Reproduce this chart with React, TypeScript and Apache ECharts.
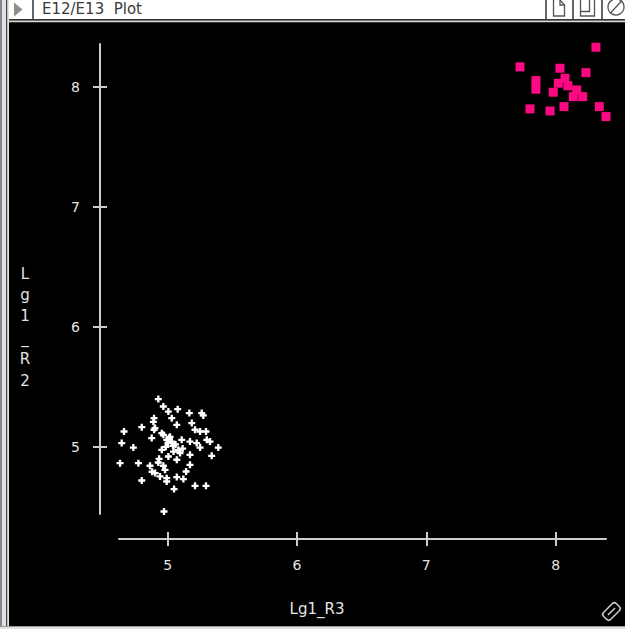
import React, { useEffect, useRef } from "react";
import * as echarts from "echarts";

const windowTitle = "E12/E13  Plot";
const xTitle = "Lg1_R3";
const yTitle = "Lg1_R2";
const xTicks = [5, 6, 7, 8];
const yTicks = [5, 6, 7, 8];

const whitePoints: number[][] = [
  [4.927, 5.398], [4.966, 5.336], [5.077, 5.314], [5.005, 5.294], [5.167, 5.281],
  [5.263, 5.281], [5.275, 5.262], [5.031, 5.239], [4.894, 5.239], [4.889, 5.208],
  [5.07, 5.183], [5.186, 5.198], [4.799, 5.164], [4.662, 5.128], [4.894, 5.142],
  [4.954, 5.114], [5.211, 5.142], [5.25, 5.128], [5.296, 5.128], [4.876, 5.073],
  [4.992, 5.058], [5.01, 5.075], [5.002, 5.033], [5.031, 5.044], [5.108, 5.058],
  [5.172, 5.044], [5.224, 5.031], [5.302, 5.058], [5.327, 5.044], [4.644, 5.031],
  [4.734, 4.994], [4.954, 4.975], [5.082, 4.975], [5.095, 4.948], [5.25, 4.994],
  [5.391, 4.994], [5.005, 4.919], [5.07, 4.892], [5.172, 4.933], [5.34, 4.925],
  [4.631, 4.864], [4.773, 4.864], [4.863, 4.842], [4.927, 4.869], [4.966, 4.842],
  [5.172, 4.85], [4.902, 4.781], [4.979, 4.808], [5.142, 4.794], [4.94, 4.753],
  [4.992, 4.739], [5.07, 4.748], [5.121, 4.731], [4.799, 4.719], [4.992, 4.711],
  [5.211, 4.675], [5.296, 4.675], [5.049, 4.648], [4.971, 4.461], [4.902, 5.156],
  [4.966, 5.1], [5.018, 5.083], [5.041, 5.008], [4.933, 4.9], [4.879, 4.792],
  [5.06, 5.02], [5.115, 4.985], [4.985, 5.0], [5.045, 4.96],
];

const pinkPoints: number[][] = [
  [8.312, 8.331], [7.725, 8.167], [8.034, 8.156], [8.235, 8.119], [7.848, 8.053],
  [7.848, 7.981], [8.073, 8.072], [8.021, 8.031], [7.982, 7.956], [8.163, 7.975],
  [8.137, 7.919], [8.21, 7.919], [7.802, 7.817], [7.957, 7.8], [8.065, 7.836],
  [8.338, 7.836], [8.39, 7.753], [8.095, 8.01],
];

const FONT = "DejaVu Sans";
const AXIS_COLOR = "#cdcdcd";
const TEXT_COLOR = "#e4e4e4";

export default function App() {
  const ref = useRef<HTMLDivElement>(null);
  useEffect(() => {
    if (!ref.current) return;
    const chart = echarts.init(ref.current, undefined, { renderer: "svg" });
    const xMin = 4.623, xMax = 8.39, yMin = 4.44, yMax = 8.358;
    const lineStyle = { color: AXIS_COLOR, width: 2 };
    chart.setOption({
      animation: false,
      backgroundColor: "#000",
      grid: { left: 119, right: 19, top: 44, bottom: 115 },
      xAxis: [
        {
          type: "value", min: xMin, max: xMax, position: "bottom", offset: 25,
          axisLine: { show: true, onZero: false, lineStyle },
          axisTick: { show: true, length: 7, lineStyle, customValues: xTicks },
          axisLabel: { customValues: xTicks, margin: 19, color: TEXT_COLOR, fontSize: 14, fontFamily: FONT },
          splitLine: { show: false },
        },
        {
          type: "value", min: xMin, max: xMax, position: "bottom", offset: 25,
          axisLine: { show: false },
          axisTick: { show: true, inside: true, length: 7, lineStyle, customValues: xTicks },
          axisLabel: { show: false },
          splitLine: { show: false },
        },
      ],
      yAxis: [
        {
          type: "value", min: yMin, max: yMax, position: "left", offset: 19,
          axisLine: { show: true, onZero: false, lineStyle },
          axisTick: { show: true, length: 7, lineStyle, customValues: yTicks },
          axisLabel: { customValues: yTicks, margin: 20, color: TEXT_COLOR, fontSize: 14, fontFamily: FONT },
          splitLine: { show: false },
        },
        {
          type: "value", min: yMin, max: yMax, position: "left", offset: 19,
          axisLine: { show: false },
          axisTick: { show: true, inside: true, length: 7, lineStyle, customValues: yTicks },
          axisLabel: { show: false },
          splitLine: { show: false },
        },
      ],
      series: [
        {
          type: "scatter", xAxisIndex: 0, yAxisIndex: 0, clip: false,
          symbol: "path://M2 0H4V2H6V4H4V6H2V4H0V2H2Z", symbolSize: 7,
          itemStyle: { color: "#ffffff", opacity: 1 },
          data: whitePoints,
        },
        {
          type: "scatter", xAxisIndex: 0, yAxisIndex: 0, clip: false,
          symbol: "rect", symbolSize: 9,
          itemStyle: { color: "#ff0883", opacity: 1 },
          data: pinkPoints,
        },
      ],
      graphic: [
        // window chrome
        { type: "rect", shape: { x: 0, y: 0, width: 625, height: 20 }, style: { fill: "#ffffff" } },
        { type: "rect", shape: { x: 0, y: 19, width: 625, height: 1.5 }, style: { fill: "#333333" } },
        { type: "rect", shape: { x: 0, y: 20.5, width: 625, height: 1.8 }, style: { fill: "#d6d6d6" } },
        { type: "rect", shape: { x: 0, y: 0, width: 9, height: 629 }, style: { fill: "#e2e2e2" } },
        { type: "rect", shape: { x: 0, y: 0, width: 2, height: 629 }, style: { fill: "#7d8894" } },
        { type: "rect", shape: { x: 6, y: 0, width: 1.2, height: 629 }, style: { fill: "#444444" } },
        { type: "rect", shape: { x: 0, y: 626, width: 625, height: 3 }, style: { fill: "#e2e2e2" } },
        { type: "rect", shape: { x: 0, y: 626, width: 625, height: 1 }, style: { fill: "#9a9a9a" } },
        { type: "polygon", shape: { points: [[14, 2.5], [14, 16.5], [22.5, 9.5]] }, style: { fill: "#8e8e8e" } },
        { type: "line", shape: { x1: 33, y1: 0, x2: 33, y2: 19 }, style: { stroke: "#333", lineWidth: 1.5 } },
        {
          type: "text", x: 42, y: 9,
          style: { text: windowTitle, fill: "#3a3a3a", font: `15px "${FONT}"`, textVerticalAlign: "middle", textAlign: "left" },
        },
        { type: "line", shape: { x1: 546, y1: 0, x2: 546, y2: 19 }, style: { stroke: "#333", lineWidth: 1.5 } },
        { type: "line", shape: { x1: 573, y1: 0, x2: 573, y2: 19 }, style: { stroke: "#333", lineWidth: 1.5 } },
        { type: "line", shape: { x1: 602, y1: 0, x2: 602, y2: 19 }, style: { stroke: "#333", lineWidth: 1.5 } },
        { type: "polyline", shape: { points: [[553.5, 0], [553.5, 16], [564.5, 16], [564.5, 5], [560, 0]] }, style: { stroke: "#555", lineWidth: 1.3, fill: null } },
        { type: "polyline", shape: { points: [[560, 0], [560, 5], [564.5, 5]] }, style: { stroke: "#555", lineWidth: 1.3, fill: null } },
        { type: "rect", shape: { x: 580.5, y: -2, width: 14, height: 18 }, style: { stroke: "#555", lineWidth: 1.3, fill: "none" } },
        { type: "polyline", shape: { points: [[580.5, 11.5], [589.5, 11.5], [589.5, 0]] }, style: { stroke: "#555", lineWidth: 1.3, fill: null } },
        { type: "circle", shape: { cx: 616, cy: 7, r: 8 }, style: { stroke: "#555", lineWidth: 1.3, fill: "none" } },
        { type: "line", shape: { x1: 610, y1: 13.5, x2: 622, y2: 0.5 }, style: { stroke: "#555", lineWidth: 1.3 } },
        // resize grip
        {
          type: "group", x: 611.5, y: 611.5, rotation: Math.PI / 4,
          children: [
            { type: "rect", shape: { x: -9, y: -5, width: 18, height: 10, r: 3 }, style: { stroke: "#cfcfcf", lineWidth: 1.5, fill: "none" } },
            { type: "line", shape: { x1: -5, y1: 0, x2: 5, y2: 0 }, style: { stroke: "#cfcfcf", lineWidth: 1.5 } },
          ],
        },
        // axis titles
        {
          type: "text", x: 317, y: 609,
          style: { text: xTitle, fill: TEXT_COLOR, font: `15px "${FONT}"`, textAlign: "center", textVerticalAlign: "middle" },
        },
        {
          type: "text", x: 25, y: 327,
          style: {
            text: yTitle.split("").join("\n"), fill: TEXT_COLOR, font: `15px "${FONT}"`,
            lineHeight: 21.4, textAlign: "center", textVerticalAlign: "middle",
          },
        },
      ],
    });
    return () => chart.dispose();
  }, []);
  return <div ref={ref} style={{ position: "fixed", left: 0, top: 0, width: 625, height: 629 }} />;
}
